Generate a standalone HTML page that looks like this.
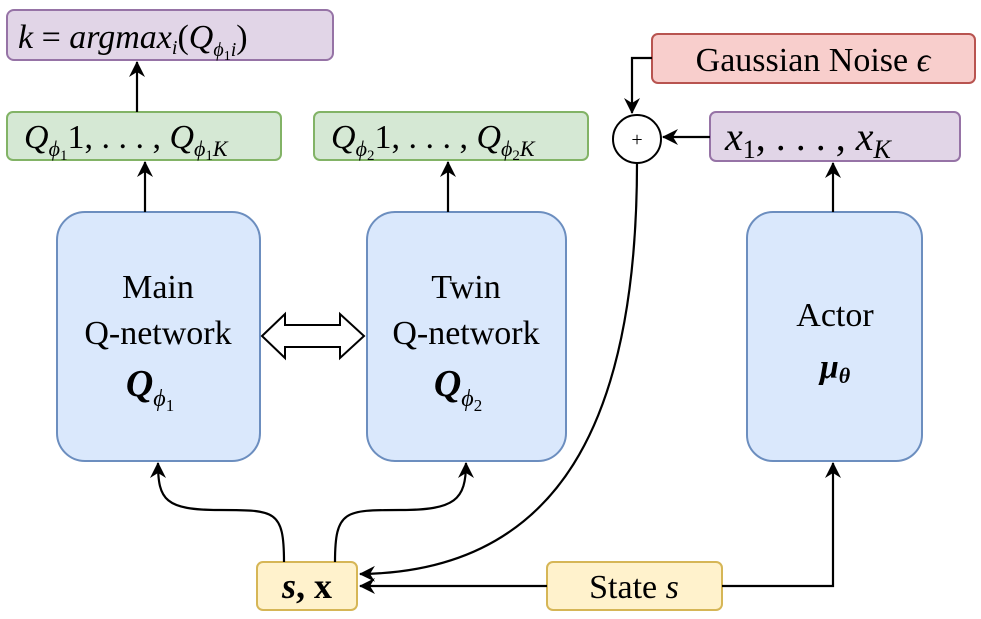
<!DOCTYPE html>
<html><head><meta charset="utf-8"><style>
html,body{margin:0;padding:0;background:#fff;}
svg{display:block;}
text{font-family:"Liberation Serif",serif;fill:#000;}
</style></head><body>
<svg width="981" height="619" viewBox="0 0 981 619" xmlns="http://www.w3.org/2000/svg">
<defs>
<marker id="a" markerWidth="18" markerHeight="18" refX="15" refY="8" orient="auto" markerUnits="userSpaceOnUse">
<path d="M0,0 L16,8 L0,16 L5,8 Z" fill="#000"/>
</marker>
</defs>
<rect x="7" y="10" width="326" height="50" rx="7" fill="#e1d5e7" stroke="#9673a6" stroke-width="2"/>
<rect x="7" y="112" width="274" height="48" rx="6" fill="#d5e8d4" stroke="#82b366" stroke-width="2"/>
<rect x="314" y="112" width="274" height="48" rx="6" fill="#d5e8d4" stroke="#82b366" stroke-width="2"/>
<rect x="652" y="34" width="323" height="49" rx="6" fill="#f8cecc" stroke="#b85450" stroke-width="2"/>
<rect x="710" y="112" width="250" height="49" rx="6" fill="#e1d5e7" stroke="#9673a6" stroke-width="2"/>
<rect x="57" y="212" width="203" height="249" rx="28" fill="#dae8fc" stroke="#6c8ebf" stroke-width="2"/>
<rect x="367" y="212" width="199" height="249" rx="28" fill="#dae8fc" stroke="#6c8ebf" stroke-width="2"/>
<rect x="747" y="212" width="175" height="249" rx="26" fill="#dae8fc" stroke="#6c8ebf" stroke-width="2"/>
<rect x="257" y="562" width="100" height="48" rx="6" fill="#fff2cc" stroke="#d6b656" stroke-width="2"/>
<rect x="547" y="562" width="175" height="48" rx="6" fill="#fff2cc" stroke="#d6b656" stroke-width="2"/>
<circle cx="637" cy="139" r="24" fill="#fff" stroke="#000" stroke-width="2"/>
<text x="637" y="146" font-size="20" text-anchor="middle">+</text>

<g stroke="#000" stroke-width="2.2" fill="none">
<line x1="137" y1="112" x2="137" y2="62" marker-end="url(#a)"/>
<line x1="145" y1="212" x2="145" y2="162" marker-end="url(#a)"/>
<line x1="448" y1="212" x2="448" y2="162" marker-end="url(#a)"/>
<line x1="833" y1="212" x2="833" y2="163" marker-end="url(#a)"/>
<polyline points="652,58 632,58 632,113" marker-end="url(#a)"/>
<line x1="710" y1="137" x2="663" y2="137" marker-end="url(#a)"/>
<path d="M637,163 C637,420 560,572 360,574" marker-end="url(#a)"/>
<line x1="547" y1="586" x2="360" y2="586" marker-end="url(#a)"/>
<polyline points="722,586 833,586 833,463" marker-end="url(#a)"/>
<path d="M284,562 C284,510 275,510 220,510 C165,510 158,500 158,463" marker-end="url(#a)"/>
<path d="M335,562 C335,510 345,510 400,510 C455,510 466,500 466,463" marker-end="url(#a)"/>
</g>
<path d="M262,336 L285,314 L285,325 L340,325 L340,314 L364,336 L340,358 L340,347 L285,347 L285,358 Z" fill="#fff" stroke="#000" stroke-width="2"/>

<text x="18" y="48" font-size="34" font-style="italic">k <tspan font-style="normal">=</tspan> argmax<tspan font-size="20" dy="6">i</tspan><tspan dy="-6" font-style="normal">(</tspan>Q<tspan font-size="20" dy="8">ϕ</tspan><tspan font-size="14" dy="4" font-style="normal">1</tspan><tspan font-size="20" dy="-4">i</tspan><tspan dy="-8" font-style="normal">)</tspan></text>
<text x="24" y="148" font-size="34" font-style="italic">Q<tspan font-size="22" dy="8">ϕ</tspan><tspan font-size="15" dy="4" font-style="normal">1</tspan><tspan dy="-12" font-style="normal">1, . . . , </tspan>Q<tspan font-size="22" dy="8">ϕ</tspan><tspan font-size="15" dy="4" font-style="normal">1</tspan><tspan font-size="22" dy="-4">K</tspan></text>
<text x="331" y="148" font-size="34" font-style="italic">Q<tspan font-size="22" dy="8">ϕ</tspan><tspan font-size="15" dy="4" font-style="normal">2</tspan><tspan dy="-12" font-style="normal">1, . . . , </tspan>Q<tspan font-size="22" dy="8">ϕ</tspan><tspan font-size="15" dy="4" font-style="normal">2</tspan><tspan font-size="22" dy="-4">K</tspan></text>
<text x="813" y="71" font-size="34" text-anchor="middle">Gaussian Noise <tspan font-style="italic">ϵ</tspan></text>
<text x="725" y="150" font-size="40" font-style="italic">x<tspan font-size="26" dy="8" font-style="normal">1</tspan><tspan dy="-8" font-style="normal">, . . . , </tspan>x<tspan font-size="26" dy="8">K</tspan></text>
<text x="158" y="298" font-size="34" text-anchor="middle">Main</text>
<text x="158" y="344" font-size="34" text-anchor="middle">Q-network</text>
<text x="150" y="396" font-size="38" font-style="italic" font-weight="bold" text-anchor="middle">Q<tspan font-size="24" font-weight="normal" dy="10">ϕ</tspan><tspan font-size="17" font-weight="normal" font-style="normal" dy="5">1</tspan></text>
<text x="466" y="298" font-size="34" text-anchor="middle">Twin</text>
<text x="466" y="344" font-size="34" text-anchor="middle">Q-network</text>
<text x="458" y="396" font-size="38" font-style="italic" font-weight="bold" text-anchor="middle">Q<tspan font-size="24" font-weight="normal" dy="10">ϕ</tspan><tspan font-size="17" font-weight="normal" font-style="normal" dy="5">2</tspan></text>
<text x="835" y="326" font-size="34" text-anchor="middle">Actor</text>
<text x="835" y="378" font-size="34" font-style="italic" font-weight="bold" text-anchor="middle">μ<tspan font-size="22" dy="5">θ</tspan></text>
<text x="307" y="598" font-size="36" font-weight="bold" text-anchor="middle"><tspan font-style="italic">s</tspan>, x</text>
<text x="634" y="598" font-size="34" text-anchor="middle">State  <tspan font-style="italic">s</tspan></text>
</svg>
</body></html>
